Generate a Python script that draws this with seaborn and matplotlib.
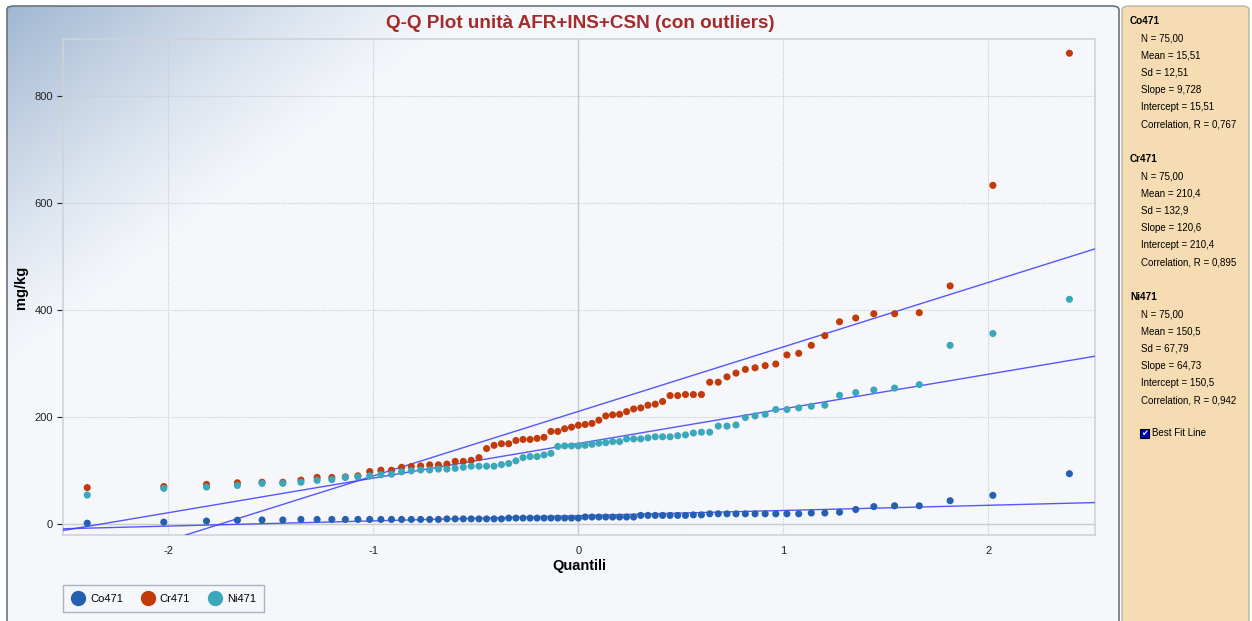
import statistics

import matplotlib
matplotlib.use("Agg")
import matplotlib.pyplot as plt
import numpy as np
import pandas as pd
import seaborn as sns
from matplotlib.lines import Line2D
from matplotlib.patches import FancyBboxPatch, Rectangle

# Sorted sample values (mg/kg), 75 per element
co471 = [1.5, 3.5, 5.5, 7, 7.5, 7.5, 8.5, 8.5, 8.5, 8.5, 8.5, 8.5, 8.5, 8.5, 8.5,
         8.5, 8.5, 8.5, 8.5, 9.5, 9.5, 9.5, 9.5, 9.5, 9.5, 9.5, 9.5, 11, 11, 11,
         11, 11, 11, 11, 11, 11, 11, 11, 13, 13, 13, 13, 13, 13, 13, 13, 16, 16,
         16, 16, 16, 16, 16, 17, 17, 19, 19, 19, 19, 19, 19, 19, 19, 19, 19, 20.5,
         20.5, 22, 27, 32.5, 34, 34, 43.5, 53.5, 94]
cr471 = [68, 70, 74, 77, 78, 78, 82, 87, 87, 88, 90, 98, 100.5, 100.5, 106, 107.5,
         108.5, 110.5, 110.5, 112, 117, 117, 119, 124, 141, 147, 150, 150, 156, 158,
         158, 160, 162, 173, 173, 178, 181, 184.5, 186, 188, 194, 202, 204, 205, 210,
         215, 217, 222, 224, 229, 240, 240, 242, 242, 242, 265, 265, 275, 282, 289,
         292, 296, 299, 316, 319, 334, 352, 378, 385, 393, 393, 395, 445, 633, 880]
ni471 = [54, 66.5, 69, 72, 76, 76, 78, 81.5, 83, 87, 88, 90, 92, 93, 97.5, 99.5, 101,
         101, 102.6, 102.6, 104, 106, 108, 108, 108, 108, 111, 113, 118, 124, 126, 126,
         129, 132, 145, 146, 146, 146, 147, 149, 151, 152, 154, 154, 159, 159, 159, 161,
         163, 163, 163, 165, 166.5, 170, 171.6, 171.6, 183, 183, 185, 199, 202, 205, 214,
         214, 217, 220, 222, 240.6, 245.6, 250.5, 254, 260.5, 334, 356, 420]

series = ["Co471", "Cr471", "Ni471"]
values = [co471, cr471, ni471]
slopes = [9.728, 120.6, 64.73]
intercepts = [15.51, 210.4, 150.5]
n_text = ["75,00", "75,00", "75,00"]
mean_text = ["15,51", "210,4", "150,5"]
sd_text = ["12,51", "132,9", "67,79"]
slope_text = ["9,728", "120,6", "64,73"]
intercept_text = ["15,51", "210,4", "150,5"]
corr_text = ["0,767", "0,895", "0,942"]
x_ticks = [-2, -1, 0, 1, 2]
y_ticks = [0, 200, 400, 600, 800]

palette = {"Co471": "#2560b0", "Cr471": "#c23a0a", "Ni471": "#3aa8ba"}

# normal scores (Blom) for the Q-Q x axis
rows = []
for name, vals in zip(series, values):
    n = len(vals)
    nd = statistics.NormalDist()
    for i, v in enumerate(sorted(vals), start=1):
        rows.append({"serie": name, "q": nd.inv_cdf((i - 0.375) / (n + 0.25)), "val": v})
df = pd.DataFrame(rows)

plt.rcParams["axes.unicode_minus"] = False
plt.rcParams["font.family"] = ["Liberation Sans", "DejaVu Sans"]

W, H = 1252, 621
fig = plt.figure(figsize=(W / 100, H / 100), dpi=100)
fig.patch.set_facecolor("white")

# gradient background of the chart panel
bg = fig.add_axes([7 / W, 0, (1119 - 7) / W, (H - 6) / H])
bg.set_axis_off()
gh, gw = 300, 600
yy, xx = np.mgrid[0:gh, 0:gw]
d = xx / gw * 1112 / 470 + yy / gh * 615 / 360
t = np.clip(1 - d, 0, 1) ** 1.2
corner = np.array([160, 183, 210]) / 255
base = np.array([245, 247, 251]) / 255
img = base + t[..., None] * (corner - base)
bg.imshow(img, aspect="auto", extent=(0, 1, 0, 1), origin="upper")
bg.set_xlim(0, 1)
bg.set_ylim(0, 1)
fig.patches.append(FancyBboxPatch((7 / W, -0.02), (1119 - 7) / W, (H - 6) / H + 0.02,
                                  boxstyle="round,pad=0,rounding_size=0.006",
                                  transform=fig.transFigure, facecolor="none",
                                  edgecolor="#6a737d", linewidth=1.2, zorder=5))

# side statistics panel
fig.patches.append(FancyBboxPatch((1122 / W, -0.02), (1249 - 1122) / W, (H - 6) / H + 0.02,
                                  boxstyle="round,pad=0,rounding_size=0.006",
                                  transform=fig.transFigure, facecolor="#f5dcb2",
                                  edgecolor="#b9b2a6", linewidth=1.0, zorder=1))

ax = fig.add_axes([63.3 / W, 86 / H, (1095 - 63.3) / W, (535 - 39.3) / H])
ax.set_facecolor("none")

sns.scatterplot(data=df, x="q", y="val", hue="serie", palette=palette, s=26,
                linewidth=0, legend=False, ax=ax, zorder=4)
for name, sl, ic in zip(series, slopes, intercepts):
    ax.axline((0, ic), slope=sl, color="#3a3aff", linewidth=1.0, alpha=0.85, zorder=3)

ax.set_xlim(-2.512, 2.52)
ax.set_ylim(-20.6, 906)
ax.set_xticks(x_ticks)
ax.set_yticks(y_ticks)
ax.set_xticklabels([str(v) for v in x_ticks])
ax.set_yticklabels([str(v) for v in y_ticks])
ax.tick_params(labelsize=8, colors="#222222", length=4, width=0.8)
ax.tick_params(axis="x", length=0, pad=8)
ax.grid(True, color="#c9ccd2", linestyle=(0, (1, 1)), linewidth=0.8)
ax.axhline(0, color="#c8cbd0", linewidth=1.0, zorder=1)
ax.axvline(0, color="#c8cbd0", linewidth=1.0, zorder=1)
for side in ax.spines.values():
    side.set_color("#cfd2d8")
    side.set_linewidth(1.2)
ax.set_xlabel("Quantili", fontsize=10.5, fontweight="bold", labelpad=2)
ax.set_ylabel("mg/kg", fontsize=10.5, fontweight="bold")
ax.yaxis.set_label_coords(-0.034, 0.5)

fig.text(580 / W, 1 - 23 / H, "Q-Q Plot unità AFR+INS+CSN (con outliers)", ha="center",
         va="center", fontsize=13.6, fontweight="bold", color="#a52a2a")

handles = [Line2D([], [], marker="o", linestyle="", markersize=10, markerfacecolor=palette[s],
                  markeredgecolor=palette[s], label=s) for s in series]
leg = fig.legend(handles=handles, loc="lower left", bbox_to_anchor=(63 / W, 9 / H), ncol=3,
                 frameon=True, fancybox=False, fontsize=8, handletextpad=0.5,
                 columnspacing=1.6, borderpad=0.75, handlelength=1.2, borderaxespad=0)
leg.get_frame().set_edgecolor("#9aa3b0")
leg.get_frame().set_facecolor("#f5f7fb")
leg.get_frame().set_linewidth(1.0)

# statistics text
y0 = 21
for k, name in enumerate(series):
    top = y0 + k * 138
    fig.text(1130 / W, 1 - top / H, name, fontsize=7.2, fontweight="bold", va="center")
    items = ["N = " + n_text[k], "Mean = " + mean_text[k], "Sd = " + sd_text[k],
             "Slope = " + slope_text[k], "Intercept = " + intercept_text[k],
             "Correlation, R = " + corr_text[k]]
    for j, txt in enumerate(items):
        fig.text(1141 / W, 1 - (top + 17.2 * (j + 1)) / H, txt, fontsize=7.0, va="center")

fig.patches.append(Rectangle((1140 / W, 1 - 438 / H), 9 / W, 9 / H, transform=fig.transFigure,
                             facecolor="#0000cc", edgecolor="black", linewidth=0.8, zorder=6))
fig.text(1144.5 / W, 1 - 433.5 / H, "\u2714", fontsize=6, color="white", ha="center",
         va="center", family=["DejaVu Sans"], zorder=7)
fig.text(1152 / W, 1 - 433 / H, "Best Fit Line", fontsize=7.0, va="center")

fig.savefig("out.png", dpi=100)
